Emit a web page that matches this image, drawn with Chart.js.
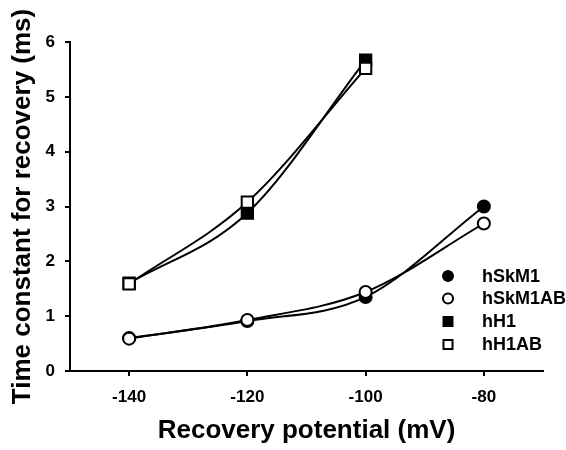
<!DOCTYPE html>
<html>
<head>
<meta charset="utf-8">
<script src="https://cdn.jsdelivr.net/npm/chart.js@4/dist/chart.umd.min.js"></script>
<style>
  html, body { margin: 0; padding: 0; background: #fff; }
  #wrap { width: 566px; height: 450px; }
</style>
</head>
<body>
<div id="wrap"><canvas id="recoveryChart" width="566" height="450"></canvas></div>
<script>
// values
const potentials = [-140, -120, -100, -80];
const hSkM1 = [0.6, 0.91, 1.35, 3.0];
const hSkM1AB = [0.59, 0.93, 1.44, 2.69];
const hH1Potentials = [-140, -120, -100];
const hH1 = [1.6, 2.88, 5.67];
const hH1AB = [1.59, 3.08, 5.52];
const xTicks = [-140, -120, -100, -80];
const yTicks = [0, 1, 2, 3, 4, 5, 6];

const FONT = 'Arial, "Liberation Sans", sans-serif';

function pts(xs, ys) {
  return xs.map((x, i) => ({ x: x, y: ys[i] }));
}

function series(label, xs, ys, style, filled, order) {
  return {
    label: label,
    data: pts(xs, ys),
    borderColor: '#000',
    borderWidth: 2,
    cubicInterpolationMode: 'monotone',
    pointStyle: style,
    pointRadius: style === 'rect' ? 8 : 6,
    pointBorderWidth: 2,
    pointBorderColor: '#000',
    pointBackgroundColor: filled ? '#000' : '#fff',
    fill: false,
    order: order
  };
}

// legend drawn inside the plot, bottom right
const insideLegend = {
  id: 'insideLegend',
  afterDraw(chart) {
    const ctx = chart.ctx;
    const rows = [276, 298.5, 321.5, 344.5];
    ctx.save();
    ctx.font = 'bold 18px ' + FONT;
    ctx.textBaseline = 'middle';
    chart.data.datasets.forEach((ds, i) => {
      const y = rows[i];
      const x = 448;
      ctx.lineWidth = 2;
      ctx.strokeStyle = '#000';
      ctx.fillStyle = ds.pointBackgroundColor;
      ctx.beginPath();
      if (ds.pointStyle === 'rect') {
        ctx.rect(x - 4.5, y - 4.5, 9, 9);
      } else {
        ctx.arc(x, y, 5, 0, Math.PI * 2);
      }
      ctx.fill();
      ctx.stroke();
      ctx.fillStyle = '#000';
      ctx.fillText(ds.label, 482, y + 1);
    });
    ctx.restore();
  }
};

new Chart(document.getElementById('recoveryChart'), {
  type: 'line',
  data: {
    datasets: [
      series('hSkM1', potentials, hSkM1, 'circle', true, 2),
      series('hSkM1AB', potentials, hSkM1AB, 'circle', false, 1),
      series('hH1', hH1Potentials, hH1, 'rect', true, 2),
      series('hH1AB', hH1Potentials, hH1AB, 'rect', false, 1)
    ]
  },
  options: {
    responsive: false,
    animation: false,
    layout: { padding: { top: 42, right: 23, left: 0, bottom: 0 } },
    plugins: {
      legend: { display: false },
      tooltip: { enabled: false }
    },
    scales: {
      x: {
        type: 'linear',
        min: -150,
        max: -70,
        afterBuildTicks: s => { s.ticks = xTicks.map(v => ({ value: v })); },
        afterFit: s => { s.height = 79; },
        grid: { display: true, drawOnChartArea: false, drawTicks: true, tickLength: 5, color: '#000', lineWidth: 2 },
        border: { display: true, color: '#000', width: 2 },
        ticks: { color: '#000', font: { family: FONT, size: 17, weight: 'bold' }, padding: 11, maxRotation: 0 },
        title: {
          display: true,
          text: 'Recovery potential (mV)',
          color: '#000',
          font: { family: FONT, size: 26, weight: 'bold', lineHeight: 1 },
          padding: { top: 0, bottom: 6 }
        }
      },
      y: {
        type: 'linear',
        min: 0,
        max: 6,
        afterBuildTicks: s => { s.ticks = yTicks.map(v => ({ value: v })); },
        afterFit: s => { s.width = 70; },
        grid: { display: true, drawOnChartArea: false, drawTicks: true, tickLength: 5, color: '#000', lineWidth: 2 },
        border: { display: true, color: '#000', width: 2 },
        ticks: { color: '#000', font: { family: FONT, size: 17, weight: 'bold' }, padding: 10 },
        title: {
          display: true,
          text: 'Time constant for recovery (ms)',
          color: '#000',
          font: { family: FONT, size: 26, weight: 'bold', lineHeight: 1 },
          padding: { top: 10, bottom: 0 }
        }
      }
    }
  },
  plugins: [insideLegend]
});
</script>
</body>
</html>
